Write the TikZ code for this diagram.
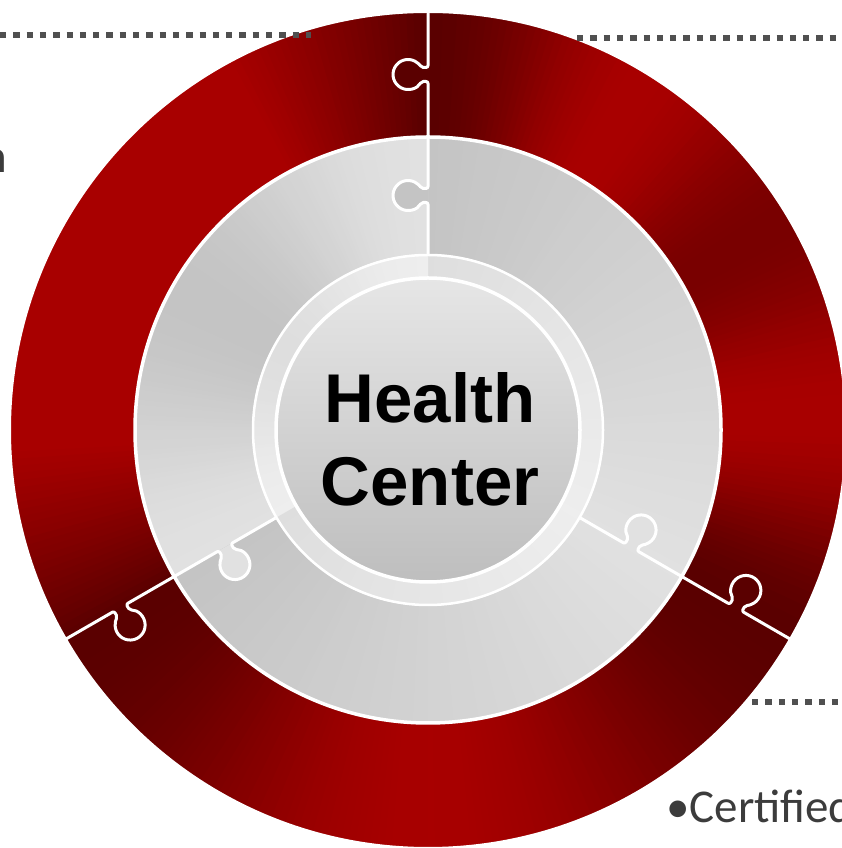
\documentclass[tikz,border=0pt]{standalone}
\usepackage{fontspec}
\usepackage{tikz}
\newfontfamily\labelfont{Liberation Sans}
\newfontfamily\sidefont{Carlito}
\definecolor{redhi}{RGB}{168,0,0}
\definecolor{redlo}{RGB}{90,0,0}
\definecolor{graylt}{RGB}{225,225,225}
\definecolor{graydk}{RGB}{196,196,196}
\definecolor{hubtop}{RGB}{230,230,230}
\definecolor{hubbot}{RGB}{190,190,190}
\definecolor{dotgray}{RGB}{80,80,80}
\definecolor{textgray}{RGB}{60,60,60}

\begin{document}
\begin{tikzpicture}[x=1pt, y=1pt,
    ringpiece/.style n args={3}{insert path={(#1:#2) -- (#1:#3) arc[start angle=#1, end angle=#1+1.3, radius=#3] -- ({#1+1.3}:#2) arc[start angle=#1+1.3, end angle=#1, radius=#2] -- cycle}},
    seam/.style={draw=white, line width=3pt, line join=round, rounded corners=2pt},
    dotline/.style={dotgray, line width=6pt, dash pattern=on 6.3pt off 7pt},
    sidetext/.style={inner sep=0pt, text=textgray, font=\sidefont\fontsize{47}{56}\selectfont},
    hubtext/.style={align=center, inner sep=0pt, font=\labelfont\bfseries\fontsize{69}{83}\selectfont}]
    \useasboundingbox (0,0) rectangle (841,848);
    % 背景
    \fill[white] (0,0) rectangle (841,848);
    \shade[top color=white, middle color=black!6, bottom color=white] (0,40) rectangle (841,720);

    \begin{scope}[shift={(428,418)}]
    % 右上块
    \foreach \a in {-30,...,89} {
        \pgfmathtruncatemacro\p{max(0,min(100,60-40*cos(6*(\a+30))-20*cos(3*(\a+30))))}
        \pgfmathtruncatemacro\q{max(0,min(100,100-(\a+30)/1.2))}
        \fill[redhi!\p!redlo, ringpiece={\a}{293}{418}];
        \fill[graylt!\q!graydk, ringpiece={\a}{150}{293}];
    }
    % 左块
    \foreach \a in {90,...,209} {
        \pgfmathtruncatemacro\p{max(0,min(100,150*sin(1.5*(\a-90))))}
        \pgfmathtruncatemacro\q{max(0,min(100,50+50*cos(3*(\a-90))))}
        \fill[redhi!\p!redlo, ringpiece={\a}{293}{418}];
        \fill[graylt!\q!graydk, ringpiece={\a}{150}{293}];
    }
    % 下块
    \foreach \a in {210,...,329} {
        \pgfmathtruncatemacro\p{max(0,min(100,50-50*cos(3*(\a-210))))}
        \pgfmathtruncatemacro\q{max(0,min(100,(\a-210)/1.2))}
        \fill[redhi!\p!redlo, ringpiece={\a}{293}{418}];
        \fill[graylt!\q!graydk, ringpiece={\a}{150}{293}];
    }
    \draw[white, line width=2pt] (0,0) circle[radius=418];
    \draw[white, line width=3.5pt] (0,0) circle[radius=293];

    % 拼图缝
    \foreach \t/\gk in {90/graydk, 210/graylt, 330/graylt} {
        \begin{scope}[rotate=\t]
            \fill[\gk] (227.5,0) -- (227.5,6.73) arc[start angle=242.2, end angle=-62.2, radius=15] -- (241.5,0) -- cycle;
            \fill[redlo] (348.5,0) -- (348.5,6.73) arc[start angle=242.2, end angle=-62.2, radius=15] -- (362.5,0) -- cycle;
            \draw[seam] (176,0) -- (227.5,0) -- (227.5,6.73) arc[start angle=242.2, end angle=-62.2, radius=15] -- (241.5,0)
                -- (348.5,0) -- (348.5,6.73) arc[start angle=242.2, end angle=-62.2, radius=15] -- (362.5,0) -- (418,0);
        \end{scope}
    }

    % 中心
    \fill[white, opacity=0.45] (0,0) circle[radius=176];
    \shade[top color=hubtop, bottom color=hubbot] (0,0) circle[radius=152];
    \draw[white, line width=2.5pt] (0,0) circle[radius=175];
    \draw[white, line width=3.5pt] (0,0) circle[radius=152];
    \node[hubtext] (hub) at (2,-9) {Health\\Center};
    \end{scope}

    % 虚线
    \coordinate (dlA) at (0,813);
    \coordinate (dlB) at (311,813);
    \coordinate (drA) at (577,810);
    \coordinate (drB) at (841,810);
    \coordinate (dbA) at (752,146);
    \coordinate (dbB) at (841,146);
    \draw[dotline] (dlA) -- (dlB);
    \draw[dotline] (drA) -- (drB);
    \draw[dotline] (dbA) -- (dbB);

    % 侧边文字
    \node[sidetext, anchor=base east] (lefttxt) at (7,675) {h};
    \node[sidetext, anchor=base west] (righttxt) at (666,25) {•Certified};
\end{tikzpicture}
\end{document}
